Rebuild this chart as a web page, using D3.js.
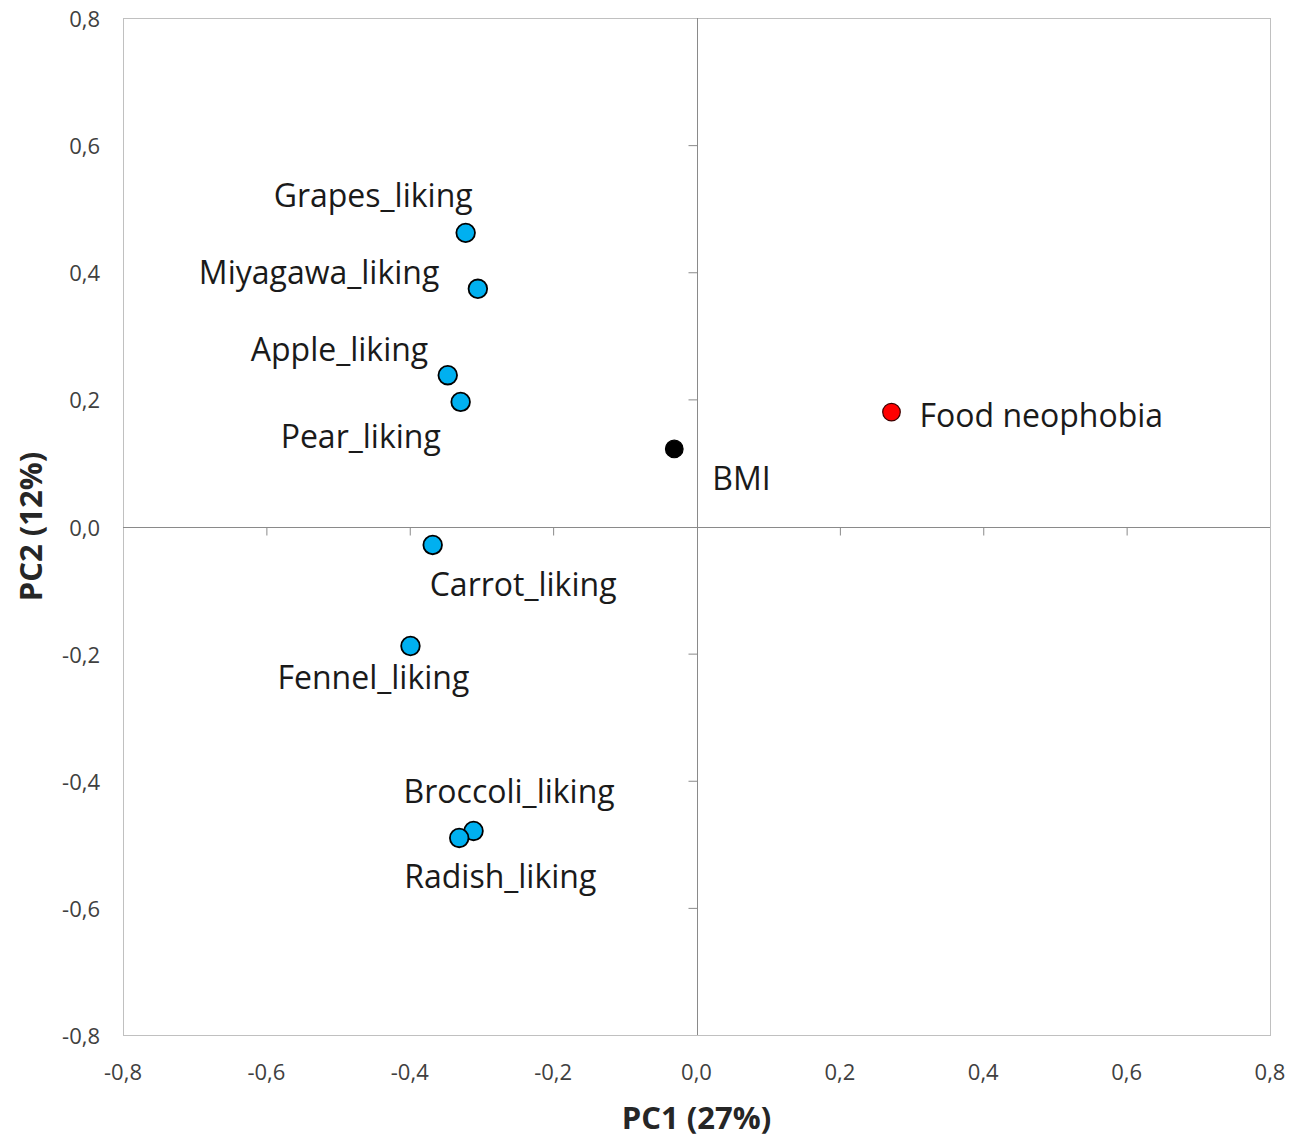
<!DOCTYPE html>
<html>
<head>
<meta charset="utf-8">
<script src="https://cdn.jsdelivr.net/npm/d3@7"></script>
<style>
  html, body { margin: 0; padding: 0; background: #ffffff; }
  svg { display: block; font-family: "Open Sans", sans-serif; }
</style>
</head>
<body>
<svg id="chart" width="1310" height="1142"></svg>
<script>
// PCA loadings: variable names and their coordinates on PC1 / PC2
const variables = ["Grapes_liking", "Miyagawa_liking", "Apple_liking", "Pear_liking",
                   "BMI", "Food neophobia", "Carrot_liking", "Fennel_liking",
                   "Broccoli_liking", "Radish_liking"];
const pc1 = [-0.322, -0.305, -0.347, -0.329, -0.031, 0.272, -0.368, -0.399, -0.311, -0.331];
const pc2 = [0.462, 0.374, 0.238, 0.196, 0.122, 0.180, -0.029, -0.188, -0.479, -0.490];
const group = ["liking", "liking", "liking", "liking", "bmi", "neophobia",
               "liking", "liking", "liking", "liking"];
const tickValues = [-0.8, -0.6, -0.4, -0.2, 0.0, 0.2, 0.4, 0.6, 0.8];
const xTitle = "PC1 (27%)";
const yTitle = "PC2 (12%)";

// Label placement relative to each marker (pixels, text-anchor start, centred vertically)
const labelShift = [
  [-192, -38], [-279, -17], [-197, -27], [-180, 34],
  [38, 29], [28, 2], [-3, 39], [-133, 31],
  [-70, -40], [-55, 38]
];

const fills = { liking: "#00B0F0", bmi: "#000000", neophobia: "#FF0000" };

const svg = d3.select("#chart");
const margin = { left: 123, right: 40, top: 18, bottom: 107 };
const W = 1310, H = 1142;

const x = d3.scaleLinear().domain([-0.8, 0.8]).range([margin.left, W - margin.right]);
const y = d3.scaleLinear().domain([-0.8, 0.8]).range([H - margin.bottom, margin.top]);
const fmt = v => d3.format(".1f")(v).replace("−", "-").replace(".", ",");

// Plot frame
svg.append("rect")
  .attr("x", x(-0.8) + 0.5).attr("y", y(0.8) + 0.5)
  .attr("width", x(0.8) - x(-0.8)).attr("height", y(-0.8) - y(0.8))
  .attr("fill", "none").attr("stroke", "#c0c0c0").attr("stroke-width", 1);

// Axes through the origin
const axisColor = "#8a8a8a";
const xAxis = svg.append("g")
  .attr("transform", `translate(0,${Math.round(y(0)) + 0.5})`)
  .call(d3.axisBottom(x).tickValues(tickValues).tickSize(8).tickFormat(""));
const yAxis = svg.append("g")
  .attr("transform", `translate(${Math.round(x(0)) + 0.5},0)`)
  .call(d3.axisLeft(y).tickValues(tickValues).tickSize(9).tickFormat(""));
[xAxis, yAxis].forEach(g => {
  g.select(".domain").attr("stroke", axisColor).attr("stroke-width", 1);
  g.selectAll(".tick line").attr("stroke", axisColor).attr("stroke-width", 1);
});
// keep the end ticks off the frame
xAxis.selectAll(".tick").filter(d => Math.abs(d) > 0.79 || d === 0).remove();
yAxis.selectAll(".tick").filter(d => Math.abs(d) > 0.79 || d === 0).remove();
xAxis.select(".domain").attr("d", `M${x(-0.8)},0H${x(0.8)}`);
yAxis.select(".domain").attr("d", `M0,${y(0.8)}V${y(-0.8)}`);

// Tick labels along the frame edges
const tickColor = "#404040";
svg.append("g").selectAll("text").data(tickValues).join("text")
  .attr("x", 100).attr("y", d => y(d))
  .attr("text-anchor", "end").attr("dominant-baseline", "central")
  .attr("font-size", 22).attr("fill", tickColor)
  .text(fmt);
svg.append("g").selectAll("text").data(tickValues).join("text")
  .attr("x", d => x(d)).attr("y", 1071)
  .attr("text-anchor", "middle").attr("dominant-baseline", "central")
  .attr("font-size", 22).attr("fill", tickColor)
  .text(fmt);

// Axis titles
svg.append("text")
  .attr("x", x(0)).attr("y", 1117)
  .attr("text-anchor", "middle").attr("dominant-baseline", "central")
  .attr("font-size", 31).attr("font-weight", "bold").attr("fill", "#262626")
  .text(xTitle);
svg.append("text")
  .attr("transform", `translate(30,${y(0)}) rotate(-90)`)
  .attr("text-anchor", "middle").attr("dominant-baseline", "central")
  .attr("font-size", 31).attr("font-weight", "bold").attr("fill", "#262626")
  .text(yTitle);

// Markers and labels
const rows = variables.map((name, i) => ({ name, px: pc1[i], py: pc2[i], g: group[i], shift: labelShift[i] }));

svg.append("g").selectAll("circle").data(rows).join("circle")
  .attr("cx", d => x(d.px)).attr("cy", d => y(d.py))
  .attr("r", d => d.g === "liking" ? 9.3 : 8.8)
  .attr("fill", d => fills[d.g])
  .attr("stroke", d => d.g === "neophobia" ? "#3a0000" : "#000000")
  .attr("stroke-width", d => d.g === "liking" ? 1.8 : 1.2);

svg.append("g").selectAll("text").data(rows).join("text")
  .attr("x", d => x(d.px) + d.shift[0]).attr("y", d => y(d.py) + d.shift[1])
  .attr("dominant-baseline", "central")
  .attr("font-size", 32).attr("fill", "#1a1a1a")
  .text(d => d.name);
</script>
</body>
</html>
